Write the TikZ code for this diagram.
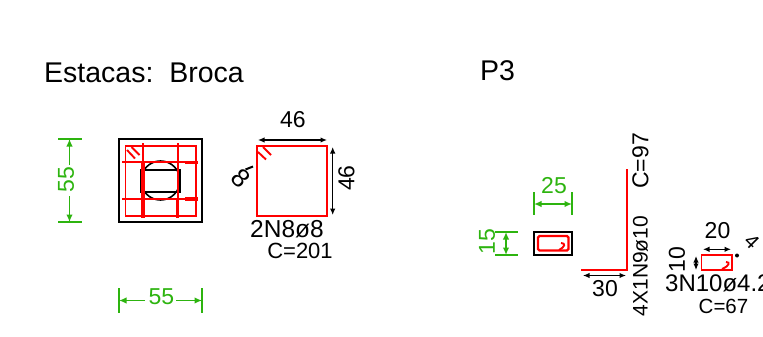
\documentclass[tikz,border=0pt]{standalone}
\usepackage{fontspec}
\setmainfont{Liberation Sans}
\definecolor{gdim}{RGB}{45,180,15}
\usetikzlibrary{arrows.meta}
\tikzset{
 x=1pt,y=-1pt,
 rbar/.style={draw=red,line width=1.9pt},
 rthick/.style={draw=red,line width=3.2pt},
 kline/.style={draw=black,line width=1.6pt},
 kdim/.style={draw=black,line width=1.2pt,{Latex[length=6.5pt,width=5.5pt]}-{Latex[length=6.5pt,width=5.5pt]}},
 gline/.style={draw=gdim,line width=1.5pt},
 gdimline/.style={gline,{Latex[length=7.5pt,width=6.5pt]}-{Latex[length=7.5pt,width=6.5pt]}},
 gtip/.style={gline,-{Latex[length=7.5pt,width=6.5pt]}},
 ktxt/.style={inner sep=0pt,font=\fontsize{23}{23}\selectfont,text=black},
 gtxt/.style={ktxt,text=gdim},
 smalltxt/.style={inner sep=0pt,font=\fontsize{20.5}{20.5}\selectfont,text=black},
 longtxt/.style={inner sep=0pt,font=\fontsize{21}{21}\selectfont,text=black},
 title/.style={inner sep=0pt,anchor=west,font=\fontsize{28.5}{28.5}\selectfont,text=black},
}
\begin{document}
\begin{tikzpicture}
\useasboundingbox (0,0) rectangle (763,337);
\fill[white] (0,0) rectangle (763,337);
\node[title] (t1) at (44,73) {Estacas:\ \ Broca};
\node[title] (t2) at (480,71) {P3};
% pile cap
\draw[kline] (119,139) rectangle (202,222);
\draw[kline] (141,170) rectangle (180,192);
\draw[kline] (160.5,180.5) circle (19.5);
\draw[rbar] (125.5,145.7) rectangle (195.7,215.7);
\draw[rbar] (122,162.3) -- (197.7,162.3) (122,199) -- (197.7,199);
\draw[rthick] (185,162.3) -- (197.7,162.3) (185,199) -- (197.7,199);
\draw[rbar] (143,143) -- (143,217.7) (177.7,143) -- (177.7,217.7);
\draw[rthick] (143,162.3) -- (143,217.7) (177.7,199) -- (177.7,217.7);
\draw[rbar] (127,150) -- (135,158.5) (131.5,147) -- (139.5,155);
% green dims of cap
\coordinate (a1) at (69.5,139); \coordinate (a2) at (69.5,222);
\draw[gline] (58,139) -- (82,139) (58,222) -- (82,222);
\draw[gtip] (69.5,165) -- (a1);
\draw[gtip] (69.5,196) -- (a2);
\node[gtxt,rotate=90] (d55v) at (66,179.5) {55};
\coordinate (b1) at (119,300.5); \coordinate (b2) at (202,300.5);
\draw[gline] (119,288) -- (119,313) (202,288) -- (202,313);
\draw[gtip] (145,300.5) -- (b1);
\draw[gtip] (176,300.5) -- (b2);
\node[gtxt] (d55h) at (161.5,297) {55};
% stirrup 2N8
\draw[rbar] (256.7,145.7) rectangle (327.3,215.7);
\draw[rbar] (258,152) -- (266,159.5) (263,147) -- (271,155);
\draw[kdim] (258,140) -- (327,140);
\draw[kdim] (332.7,147) -- (332.7,215);
\node[ktxt] (d46h) at (293,120) {46};
\node[ktxt,rotate=90] (d46v) at (346.5,178) {46};
\node[ktxt,rotate=-45,font=\fontsize{26}{26}\selectfont] (hook) at (240.5,178.5) {8};
\draw[kline,line width=2pt] (245.5,169.5) -- (253,166.5);
\node[ktxt,font=\fontsize{24.5}{24.5}\selectfont] (n1) at (287,229) {2N8ø8};
\node[ktxt,font=\fontsize{22}{22}\selectfont] (c1) at (300,251) {C=201};
% column P3
\draw[kline,line width=1.9pt] (534,232) rectangle (572,255);
\draw[rbar,line width=2.2pt,rounded corners=1.5pt] (538,236) rectangle (568.5,250.5);
\draw[rbar] (559,250) .. controls (565,247) and (566,243) .. (561,243);
\draw[gline] (534,192) -- (534,215) (572,192) -- (572,215);
\draw[gdimline] (534,204) -- (572,204);
\node[gtxt] (d25) at (554,186) {25};
\draw[gline] (495,232) -- (518,232) (495,255) -- (518,255);
\draw[gdimline] (506,232) -- (506,255);
\node[gtxt,rotate=90] (d15) at (487,241.5) {15};
% bar
\draw[rbar,line width=2pt] (626.5,169) -- (626.5,270) -- (581,270);
\draw[kdim] (583,275.5) -- (626,275.5);
\node[ktxt] (d30) at (605,289) {30};
\node[ktxt,rotate=90] (c97) at (640.5,161) {C=97};
\node[longtxt,rotate=90] (n9) at (640.5,266) {4X1N9ø10};
% stirrup N10
\draw[rbar] (701.5,255) rectangle (732,270);
\draw[rbar] (722,269) .. controls (729,266) and (731,262) .. (726,262);
\draw[kdim] (703,249.3) -- (731,249.3);
\draw[kdim] (696,256) -- (696,270);
\node[ktxt] (d20) at (717.5,231) {20};
\node[ktxt,rotate=90] (d10) at (677,259.5) {10};
\fill (737,255.5) circle (2);
\node[smalltxt,rotate=-45] (h4) at (752,242) {4};
\node[ktxt,anchor=west,font=\fontsize{24}{24}\selectfont] (n10) at (665,283) {3N10ø4.2};
\node[smalltxt] (c67) at (723.5,306) {C=67};
\end{tikzpicture}
\end{document}
